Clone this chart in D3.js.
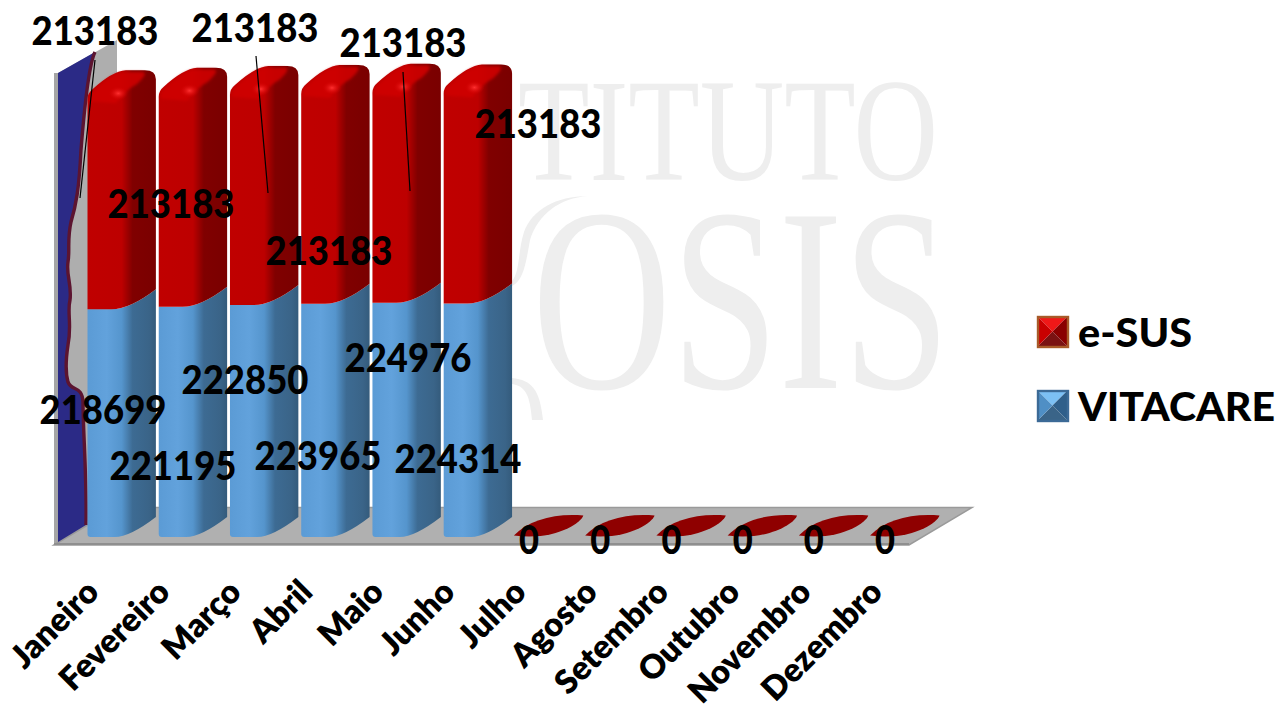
<!DOCTYPE html>
<html><head><meta charset="utf-8">
<script src="https://cdn.jsdelivr.net/npm/d3@7"></script>
<style>html,body{margin:0;background:#fff;overflow:hidden}svg{display:block}text{font-family:Lato,Carlito,sans-serif;font-weight:900;fill:#000}</style>
</head><body><svg id="c" width="1288" height="706"></svg>
<script>
const categories=["Janeiro","Fevereiro","Março","Abril","Maio","Junho","Julho","Agosto","Setembro","Outubro","Novembro","Dezembro"];
const seriesNames=["VITACARE","e-SUS"];
const vitacare=[218699,221195,222850,223965,224976,224314,0,0,0,0,0,0];
const esus=[213183,213183,213183,213183,213183,213183,0,0,0,0,0,0];
const legendOrder=["e-SUS","VITACARE"];

// hand-placed label positions of the reference (layout only)
const esusLabelPos=[[95,45],[171,218],[255,42],[329,265],[403,57],[538,138]];
const vitaLabelPos=[[103,424],[173,480],[245,394],[318,470],[408,372],[458,473]];
const leaders=[[95,60,80,198],[256,56,268,193],[403,72,410,191]];

const svg=d3.select("#c"),defs=svg.append("defs");
function grad(id,stops){const g=defs.append("linearGradient").attr("id",id);
  stops.forEach(s=>g.append("stop").attr("offset",s[0]).attr("stop-color",s[1]));}
grad("blue",[[0,"#5b9bd5"],[.28,"#62a2dc"],[.5,"#5595cd"],[.66,"#3d6b93"],[.9,"#3a6488"],[1,"#345b7c"]]);
grad("red",[[0,"#c00000"],[.5,"#bd0000"],[.66,"#800000"],[1,"#7a0000"]]);
const hl=defs.append("radialGradient").attr("id","hl");
hl.append("stop").attr("offset",0).attr("stop-color","#ff3030");
hl.append("stop").attr("offset",1).attr("stop-color","#d00000").attr("stop-opacity",0);
const blur=defs.append("filter").attr("id","soft").attr("x","-10%").attr("y","-10%").attr("width","120%").attr("height","120%");
blur.append("feGaussianBlur").attr("stdDeviation",1.4);

const x=d3.scaleBand().domain(categories).range([87.5,87.5+71*12]).paddingInner(0.04).paddingOuter(0).align(0);
const y=d3.scaleLinear().domain([0,450000]).range([537,68.5]);
const W=()=>x.bandwidth(), dY=20;

// watermark
const wm=svg.append("g").attr("class","watermark");
wm.append("text").text("TITUTO").attr("x",518).attr("y",180).attr("textLength",420).attr("lengthAdjust","spacingAndGlyphs")
  .style("font-family","Liberation Serif").style("font-weight",400).style("font-size","147px").style("fill","#eeeeee");
wm.append("text").text("OSIS").attr("x",532).attr("y",388).attr("textLength",418).attr("lengthAdjust","spacingAndGlyphs")
  .style("font-family","Liberation Serif").style("font-weight",400).style("font-size","262px").style("fill","#eeeeee");
wm.append("path").attr("d","M588,196C560,198 538,214 530,240C526,262 524,280 512,286L512,281C520,272 518,250 524,232C532,210 556,196 588,196Z").attr("fill","#eeeeee");
wm.append("path").attr("d","M512,378C532,380 540,390 543,420L532,420C530,396 526,386 512,384Z").attr("fill","#eeeeee");

// floor and wall
svg.append("path").attr("d","M58,73L117,40L117,507L58,544Z").attr("fill","#aeaeae");
svg.append("path").attr("d","M54,73H58V544H54Z").attr("fill","#a5a5a5");
svg.append("path").attr("d","M54,545L117,507.5H972L909,545Z").attr("fill","#b0b0b0").attr("stroke","#9a9a9a").attr("stroke-width",1.5);
svg.append("path").attr("d","M54,544H909").attr("stroke","#8f8f8f").attr("stroke-width",2);
const wave="M95,52C90,62 85,100 81,150C79,190 76,205 71,222C67,240 70,250 68,262C66,275 72,285 70,300C67,312 72,325 68,345C65,365 66,375 68,382C72,392 82,385 83,402C83,430 87,480 86,525";
svg.append("path").attr("d",wave+"L58,542V73Z").attr("fill","#2b2a86");
svg.append("path").attr("d",wave).attr("fill","none").attr("stroke","#5c1430").attr("stroke-width",3.4);

// bars
const stacked=d3.stack().keys(seriesNames)(categories.map((c,i)=>({VITACARE:vitacare[i],"e-SUS":esus[i]})));
const gBars=svg.append("g");
categories.forEach((c,i)=>{
  const px=x(c),w=W();
  const v=stacked[0][i],r=stacked[1][i];
  const b=y(0);
  if(v[1]-v[0]===0){
    gBars.append("path").attr("d",`M${px-1},${b-1.5}C${px+14},${b-17} ${px+40},${b-24} ${px+w},${b-21.5}C${px+w-2},${b-14} ${px+40},${b+4} ${px-1},${b-1.5}Z`).attr("fill","#8f0000");
    return;
  }
  const yv=y(v[1]), yr=y(r[1])+11;
  // blue segment
  gBars.append("path").attr("d",`M${px},${yv}H${px+w*.35}Q${px+w*.62},${yv} ${px+w},${yv-dY}V${b-dY}Q${px+w*.62},${b} ${px+w*.4},${b}H${px+3}Q${px},${b} ${px},${b-3}Z`)
    .attr("fill","url(#blue)");
  // red segment
  gBars.append("path").attr("d",`M${px},${yv}H${px+w*.35}Q${px+w*.62},${yv} ${px+w},${yv-dY}V${yr-19}Q${px+w},${yr-28} ${px+w-11},${yr-28}H${px+w*.56}Q${px+w*.36},${yr-27} ${px+5},${yr-9}Q${px},${yr-5} ${px},${yr+1}Z`)
    .attr("fill","url(#red)");
  // top cap
  gBars.append("path").attr("d",`M${px+2},${yr+3}Q${px+1},${yr-4} ${px+6},${yr-7}Q${px+w*.36},${yr-26} ${px+w*.56},${yr-26.5}H${px+w-14}Q${px+w-6},${yr-26} ${px+w*.72},${yr-14}Q${px+w*.55},${yr-8} ${px+w*.42},${yr+5}Z`)
    .attr("fill","#cf0000").attr("opacity",.9).attr("filter","url(#soft)");
  gBars.append("ellipse").attr("cx",px+w*.45).attr("cy",yr-5).attr("rx",10).attr("ry",7).attr("fill","url(#hl)");
});

// category axis
const axis=d3.axisBottom(x).tickSize(0).tickPadding(0);
const ga=svg.append("g").call(axis);
ga.select(".domain").remove();
ga.selectAll(".tick text").attr("text-anchor","end")
  .attr("transform","translate(-21,594) rotate(-45)").attr("dy",0).attr("y",0)
  .style("font-size","33px").style("font-family","Lato").style("font-weight",800);

// leader lines
svg.append("g").selectAll("line").data(leaders).join("line")
  .attr("x1",d=>d[0]).attr("y1",d=>d[1]).attr("x2",d=>d[2]).attr("y2",d=>d[3]).attr("stroke","#000").attr("stroke-width",1.2);

// value labels
const lab=svg.append("g").attr("text-anchor","middle").style("font-size","40px");
const fmt=d3.format("d");
function valueLabel(t,px,py){
  const s=String(t);
  const el=lab.append("text").text(s).attr("x",px).attr("y",py);
  if(s.length>1) el.attr("textLength",127).attr("lengthAdjust","spacingAndGlyphs");
}
categories.forEach((c,i)=>{
  if(vitacare[i]===0){
    lab.append("text").text(fmt(esus[i])).attr("x",x(c)+14).attr("y",554).attr("textLength",20).attr("lengthAdjust","spacingAndGlyphs");
    return;
  }
  valueLabel(fmt(esus[i]),esusLabelPos[i][0],esusLabelPos[i][1]);
  valueLabel(fmt(vitacare[i]),vitaLabelPos[i][0],vitaLabelPos[i][1]);
});

// legend
const legendColors={"e-SUS":{b:"#a85a28",c:["#f01818","#8a0000","#7a1212","#c80000"]},
                    "VITACARE":{b:"#3c6a96",c:["#7cc0f4","#2f5f8a","#3a6488","#4f8fc5"]}};
const legendWidths={"e-SUS":114,"VITACARE":197};
legendOrder.forEach((n,i)=>{
  const g=svg.append("g").attr("transform",`translate(1037,${316+74*i})`),s=31,col=legendColors[n];
  const tri=[[0,0,s,0],[s,0,s,s],[s,s,0,s],[0,s,0,0]];
  tri.forEach((t,k)=>g.append("path").attr("d",`M${t[0]},${t[1]}L${t[2]},${t[3]}L${s/2},${s/2}Z`).attr("fill",col.c[k]));
  g.append("rect").attr("x",1).attr("y",1).attr("width",s-1).attr("height",s-1).attr("fill","none").attr("stroke",col.b).attr("stroke-width",2.4);
  g.append("text").text(n).attr("x",41).attr("y",30.5).attr("textLength",legendWidths[n]).attr("lengthAdjust","spacingAndGlyphs").style("font-size","40px");
});
</script></body></html>
